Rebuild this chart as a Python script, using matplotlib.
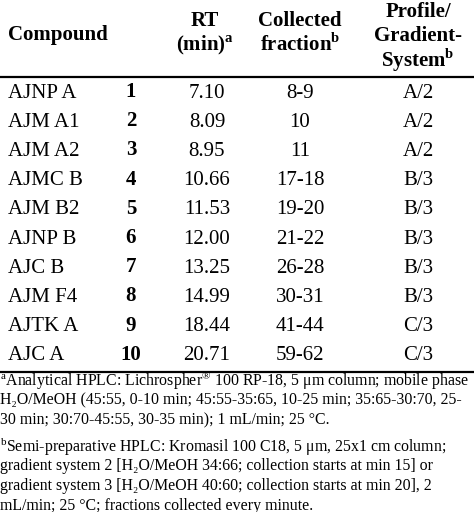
import matplotlib
matplotlib.use("Agg")
import matplotlib.pyplot as plt

plt.rcParams['font.family'] = ['Liberation Serif', 'DejaVu Serif']
plt.rcParams['mathtext.fontset'] = 'custom'
plt.rcParams['mathtext.rm'] = 'Liberation Serif'
plt.rcParams['mathtext.bf'] = 'Liberation Serif:bold'

compounds = ["AJNP A", "AJM A1", "AJM A2", "AJMC B", "AJM B2", "AJNP B", "AJC B", "AJM F4", "AJTK A", "AJC A"]
numbers = ["1", "2", "3", "4", "5", "6", "7", "8", "9", "10"]
rt = ["7.10", "8.09", "8.95", "10.66", "11.53", "12.00", "13.25", "14.99", "18.44", "20.71"]
fractions = ["8-9", "10", "11", "17-18", "19-20", "21-22", "26-28", "30-31", "41-44", "59-62"]
profiles = ["A/2", "A/2", "A/2", "B/3", "B/3", "B/3", "B/3", "B/3", "C/3", "C/3"]

foot_a = ["$^{\\mathrm{a}}$Analytical HPLC: Lichrospher$^{\\circledR}$ 100 RP-18, 5 μm column; mobile phase",
          "H₂O/MeOH (45:55, 0-10 min; 45:55-35:65, 10-25 min; 35:65-30:70, 25-",
          "30 min; 30:70-45:55, 30-35 min); 1 mL/min; 25 °C."]
foot_b = ["$^{\\mathrm{b}}$Semi-preparative HPLC: Kromasil 100 C18, 5 μm, 25x1 cm column;",
          "gradient system 2 [H₂O/MeOH 34:66; collection starts at min 15] or",
          "gradient system 3 [H₂O/MeOH 40:60; collection starts at min 20], 2",
          "mL/min; 25 °C; fractions collected every minute."]

fig = plt.figure(figsize=(4.74, 5.12), dpi=100)
ax = fig.add_axes([0, 0, 1, 1])
ax.set_xlim(0, 474)
ax.set_ylim(512, 0)
ax.axis('off')

fs = 15
hk = dict(fontsize=fs, fontweight='bold', ha='center', va='center')
ax.text(8, 35, "Compound", fontsize=fs, fontweight='bold', ha='left', va='center')
ax.text(205, 21, "RT", **hk)
ax.text(205, 45, "(min)$^{\\mathbf{a}}$", **hk)
ax.text(300, 21, "Collected", **hk)
ax.text(300, 45, "fraction$^{\\mathbf{b}}$", **hk)
ax.text(418, 12, "Profile/", **hk)
ax.text(418, 36, "Gradient-", **hk)
ax.text(418, 60, "System$^{\\mathbf{b}}$", **hk)

ax.plot([0, 474], [77, 77], color='black', lw=1.6)
ax.plot([0, 474], [372, 372], color='black', lw=1.6)

y0, dy = 93, 29.2
for i in range(len(compounds)):
    y = y0 + i * dy
    ax.text(8, y, compounds[i], fontsize=fs, ha='left', va='center')
    ax.text(131, y - 1, numbers[i], fontsize=fs, fontweight='bold', ha='center', va='center')
    ax.text(207, y, rt[i], fontsize=fs, ha='center', va='center')
    ax.text(300, y, fractions[i], fontsize=fs, ha='center', va='center')
    ax.text(418, y, profiles[i], fontsize=fs, ha='center', va='center')

ffs = 11.4
for i, line in enumerate(foot_a):
    ax.text(0, 381 + i * 19.5, line, fontsize=ffs, ha='left', va='center')
for i, line in enumerate(foot_b):
    ax.text(0, 447 + i * 19.5, line, fontsize=ffs, ha='left', va='center')

fig.savefig("out.png", dpi=100, facecolor='white')
